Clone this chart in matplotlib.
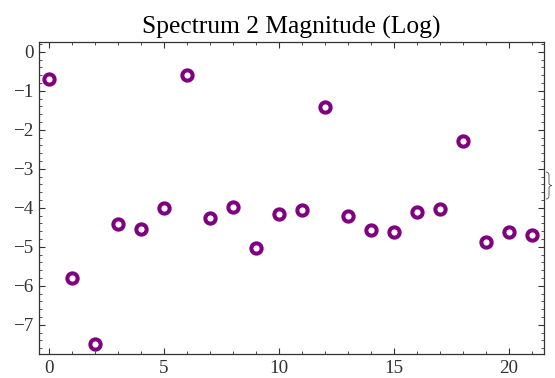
import numpy as np
import matplotlib.pyplot as plt
from matplotlib.ticker import MultipleLocator
from matplotlib.path import Path
from matplotlib.patches import PathPatch

# spectrum 2 log magnitude values
index = np.arange(22)
log_mag = [-0.71, -5.81, -7.49, -4.42, -4.55, -4.01, -0.60, -4.27, -3.98, -5.02, -4.17,
           -4.05, -1.41, -4.20, -4.58, -4.61, -4.10, -4.04, -2.29, -4.89, -4.63, -4.71]

plt.rcParams['font.family'] = ['Liberation Serif', 'DejaVu Serif']

W, H = 555, 378
fig = plt.figure(figsize=(W / 100, H / 100), dpi=100)
ax = fig.add_axes([39 / W, 1 - 354 / H, (544 - 39) / W, (354 - 42) / H])

ax.plot(index, log_mag, linestyle='none', marker='o', markersize=7.4,
        markerfacecolor='white', markeredgecolor='#800080', markeredgewidth=2.9)

ax.set_xlim(-0.43, 21.52)
ax.set_ylim(-7.75, 0.25)
ax.xaxis.set_major_locator(MultipleLocator(5))
ax.xaxis.set_minor_locator(MultipleLocator(1))
ax.yaxis.set_major_locator(MultipleLocator(1))
ax.yaxis.set_minor_locator(MultipleLocator(0.2))
ax.tick_params(which='both', direction='in', top=True, right=True,
               colors='#333333', labelsize=13.8)
ax.tick_params(which='major', length=4.5, width=0.8, pad=4)
ax.tick_params(which='minor', length=2.5, width=0.6)
for s in ax.spines.values():
    s.set_color('#333333')
    s.set_linewidth(0.9)

ax.set_title('Spectrum 2 Magnitude (Log)', fontsize=18.4, pad=6)

# small stray brace at the right edge (pixel outline -> figure fraction)
pts = [(546, 172), (549, 172), (549, 175.5), (549, 183), (549, 185.5), (552, 185.5),
       (549, 185.5), (549, 188), (549, 195.5), (549, 199), (546, 199)]
codes = [Path.MOVETO, Path.CURVE3, Path.CURVE3, Path.LINETO, Path.CURVE3, Path.CURVE3,
         Path.CURVE3, Path.CURVE3, Path.LINETO, Path.CURVE3, Path.CURVE3]
brace = Path([(x / W, 1 - y / H) for x, y in pts], codes)
fig.patches.append(PathPatch(brace, transform=fig.transFigure, fill=False,
                             edgecolor='#666666', linewidth=0.7))

fig.savefig('out.png', dpi=100)
